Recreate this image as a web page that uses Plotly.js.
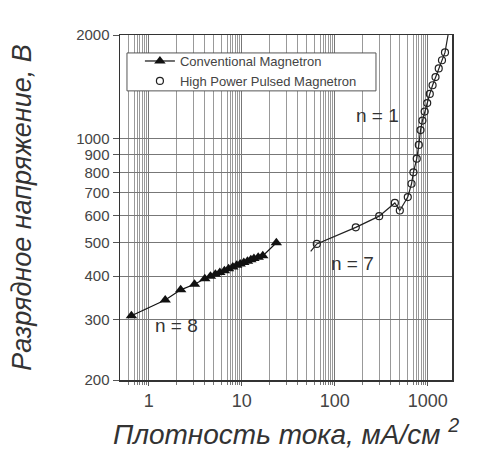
<!DOCTYPE html>
<html>
<head>
<meta charset="utf-8">
<script src="https://cdn.plot.ly/plotly-3.0.1.min.js"></script>
<style>html,body{margin:0;padding:0;background:#fff;}#chart{width:481px;height:450px;}</style>
</head>
<body>
<div id="chart"></div>
<script>
// Conventional Magnetron (filled triangles)
const convX = [0.65, 1.5, 2.2, 3.1, 4.0, 4.6, 5.2, 5.8, 6.5, 7.2, 8.0, 8.8, 9.6, 10.5, 11.5, 12.5, 13.5, 15, 16.8, 23.5];
const convY = [307, 341, 365, 379, 393, 400, 405, 410, 415, 420, 425, 430, 434, 438, 442, 446, 450, 454, 458, 500];

// High Power Pulsed Magnetron (open circles)
const pulseX = [64, 168, 300, 442, 500, 609, 668, 700, 760, 800, 835, 875, 925, 985, 1050, 1125, 1210, 1310, 1420, 1530];
const pulseY = [496, 554, 597, 652, 620, 678, 741, 800, 876, 960, 1060, 1130, 1200, 1270, 1350, 1430, 1510, 1600, 1690, 1780];
// ends of the drawn pulsed-magnetron line beyond the first and last points
const pulseLineStart = [55, 472];
const pulseLineEnd = [1650, 2000];

// annotation labels
const slopeLabels = ["n = 8", "n = 7", "n = 1"];
const slopeLabelX = [2.0, 156, 290];
const slopeLabelY = [287, 435, 1170];

// tick labels
const xTickVals = [1, 10, 100, 1000];
const xTickText = ["1", "10", "100", "1000"];
const xMinorVals = [0.6,0.7,0.75,0.8,0.85,0.9,0.95,2,3,4,5,6,7,7.5,8,8.5,9,9.5,20,30,40,50,60,70,75,80,85,90,95,200,300,400,500,600,700,750,800,850,900,950];
const yTickVals = [200,300,400,500,600,700,800,900,1000,2000];
const yTickText = ["200","300","400","500","600","700","800","900","1000","2000"];

const lineX = [pulseLineStart[0]].concat(pulseX, [pulseLineEnd[0]]);
const lineY = [pulseLineStart[1]].concat(pulseY, [pulseLineEnd[1]]);

const font = 'Arial, "Liberation Sans", sans-serif';

const traces = [
  {x: convX, y: convY, type: 'scatter', mode: 'lines+markers', name: 'Conventional Magnetron',
   line: {color: '#111', width: 1.2},
   marker: {symbol: 'triangle-up', size: 10, color: '#111'}},
  {x: lineX, y: lineY, type: 'scatter', mode: 'lines', showlegend: false, hoverinfo: 'skip',
   line: {color: '#222', width: 1.2}},
  {x: pulseX, y: pulseY, type: 'scatter', mode: 'markers', name: 'High Power Pulsed Magnetron',
   marker: {symbol: 'circle-open', size: 7, color: '#222', line: {width: 1.2, color: '#222'}}}
];

const annotations = slopeLabels.map((t, i) => ({
  x: Math.log10(slopeLabelX[i]), y: Math.log10(slopeLabelY[i]), xref: 'x', yref: 'y',
  text: t, showarrow: false, font: {family: font, size: 19, color: '#333'}
}));

const layout = {
  width: 481, height: 450,
  margin: {l: 120, r: 29, t: 35, b: 70},
  paper_bgcolor: '#fff', plot_bgcolor: '#fff',
  showlegend: true,
  legend: {x: 0.06, y: 0.968, xanchor: 'left', yanchor: 'top', bgcolor: 'rgba(0,0,0,0)', borderwidth: 0,
           font: {family: font, size: 13, color: '#444'}, tracegroupgap: 0},
  shapes: [{type: 'rect', xref: 'paper', yref: 'paper', x0: 0.021, x1: 0.771, y0: 0.838, y1: 0.948,
            fillcolor: '#fff', line: {color: '#555', width: 1}, layer: 'above'}],
  annotations: annotations,
  xaxis: {
    type: 'log', range: [-0.31, 3.26],
    tickmode: 'array', tickvals: xTickVals, ticktext: xTickText,
    ticks: 'outside', ticklen: 4, tickcolor: '#555',
    showgrid: true, gridcolor: '#777', gridwidth: 1,
    minor: {tickmode: 'array', tickvals: xMinorVals, showgrid: true, gridcolor: '#999', gridwidth: 1,
            ticks: 'outside', ticklen: 3, tickcolor: '#777'},
    showline: true, linecolor: '#333', linewidth: 1.5, mirror: true,
    zeroline: false,
    tickfont: {family: font, size: 18, color: '#444'},
    title: {text: 'Плотность тока, мА/см <sup>2</sup>', font: {family: font, size: 28, color: '#333', style: 'italic'}, standoff: 16}
  },
  yaxis: {
    type: 'log', range: [Math.log10(200), Math.log10(2000)],
    tickmode: 'array', tickvals: yTickVals, ticktext: yTickText,
    ticks: 'outside', ticklen: 6, tickcolor: '#555',
    showgrid: true, gridcolor: '#777', gridwidth: 1,
    showline: true, linecolor: '#333', linewidth: 1.5, mirror: true,
    zeroline: false,
    tickfont: {family: font, size: 15, color: '#444'},
    title: {text: 'Разрядное напряжение, В', font: {family: font, size: 27, color: '#333', style: 'italic'}, standoff: 36}
  }
};

Plotly.newPlot('chart', traces, layout, {displayModeBar: false, staticPlot: true});
</script>
</body>
</html>
